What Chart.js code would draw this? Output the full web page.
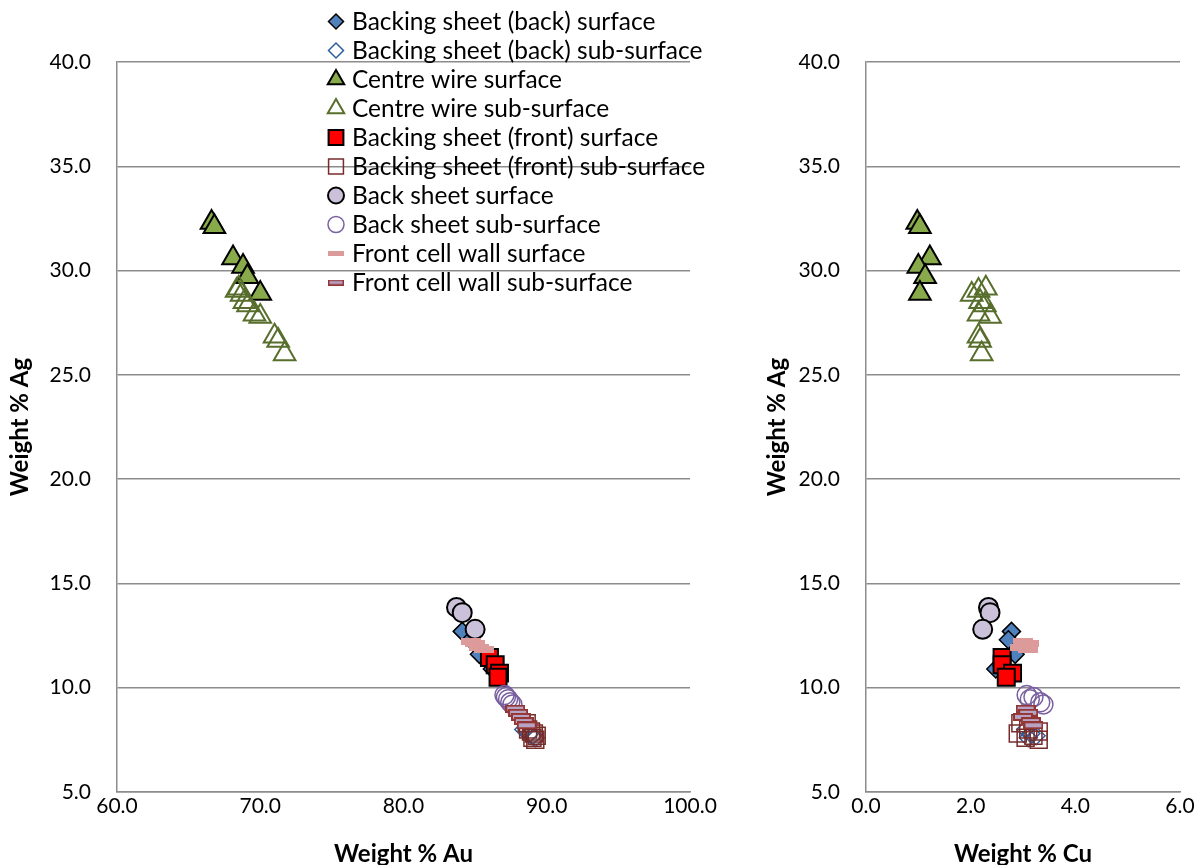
<!DOCTYPE html>
<html>
<head>
<meta charset="utf-8">
<script src="https://cdn.jsdelivr.net/npm/chart.js@4/dist/chart.umd.min.js"></script>
<style>
  body { margin: 0; background: #fff; }
  #wrap { position: relative; width: 1203px; height: 865px; }
  #left_box { position: absolute; left: 0; top: 0; width: 740px; height: 865px; }
  #right_box { position: absolute; left: 740px; top: 0; width: 463px; height: 865px; }
</style>
</head>
<body>
<div id="wrap">
  <div id="left_box"><canvas id="au_chart"></canvas></div>
  <div id="right_box"><canvas id="cu_chart"></canvas></div>
</div>
<script>
const series_names = [
    "Backing sheet (back) surface",
    "Backing sheet (back) sub-surface",
    "Centre wire surface",
    "Centre wire sub-surface",
    "Backing sheet (front) surface",
    "Backing sheet (front) sub-surface",
    "Back sheet surface",
    "Back sheet sub-surface",
    "Front cell wall surface",
    "Front cell wall sub-surface"
];

// weight % Ag / Au / Cu per series
const back_surf_ag = [12.7, 12.3, 11.6, 10.9];
const back_surf_au = [84.1, 84.7, 85.3, 86.2];
const back_surf_cu = [2.78, 2.72, 2.85, 2.48];

const back_sub_ag = [8.0, 7.8, 7.7, 7.6];
const back_sub_au = [88.4, 88.8, 89.0, 89.2];
const back_sub_cu = [3.05, 3.15, 3.25, 3.1];

const wire_surf_ag = [32.3, 32.1, 30.6, 30.2, 29.7, 28.9];
const wire_surf_au = [66.6, 66.8, 68.1, 68.8, 69.1, 70.0];
const wire_surf_cu = [0.98, 1.03, 1.22, 1.0, 1.13, 1.03];

const wire_sub_ag = [29.15, 29.05, 28.85, 28.5, 28.35, 27.9, 27.8, 26.85, 26.65, 26.0];
const wire_sub_au = [68.5, 68.35, 68.7, 68.9, 69.15, 69.6, 70.0, 71.0, 71.25, 71.7];
const wire_sub_cu = [2.29, 2.15, 2.02, 2.18, 2.27, 2.15, 2.37, 2.15, 2.18, 2.21];

const front_surf_ag = [11.45, 11.1, 10.7, 10.5];
const front_surf_au = [86.0, 86.4, 86.7, 86.6];
const front_surf_cu = [2.6, 2.6, 2.8, 2.68];

const front_sub_ag = [8.3, 8.0, 7.9, 7.8, 7.7, 7.6, 7.5];
const front_sub_au = [88.6, 88.7, 88.9, 89.1, 89.3, 89.0, 89.2];
const front_sub_cu = [2.95, 3.1, 3.3, 2.9, 3.2, 3.05, 3.3];

const sheet_surf_ag = [13.85, 13.6, 12.8];
const sheet_surf_au = [83.7, 84.1, 85.0];
const sheet_surf_cu = [2.34, 2.37, 2.23];

const sheet_sub_ag = [9.65, 9.55, 9.45, 9.3, 9.2];
const sheet_sub_au = [87.05, 87.15, 87.3, 87.45, 87.6];
const sheet_sub_cu = [3.07, 3.2, 3.13, 3.33, 3.39];

const wall_surf_ag = [12.2, 12.1, 11.95, 11.85];
const wall_surf_au = [84.7, 85.0, 85.3, 85.6];
const wall_surf_cu = [3.0, 3.12, 2.95, 3.1];

const wall_sub_ag = [9.0, 8.8, 8.6, 8.4, 8.2];
const wall_sub_au = [87.8, 88.0, 88.2, 88.4, 88.6];
const wall_sub_cu = [3.05, 3.1, 3.0, 3.15, 3.2];

const au_ticks = [60, 70, 80, 90, 100];
const cu_ticks = [0, 2, 4, 6];
const ag_ticks = [5, 10, 15, 20, 25, 30, 35, 40];

const FONT = "Lato, 'Open Sans', sans-serif";
const TICK_SIZE = 21;
const TITLE_SIZE = 24;
const LEGEND_SIZE = 24.5;

// little canvases for the dash shaped markers
function dash_marker(w, h, fill, stroke, lw) {
    const c = document.createElement("canvas");
    c.width = w; c.height = h;
    const ctx = c.getContext("2d");
    ctx.fillStyle = fill;
    ctx.fillRect(0, 0, w, h);
    if (stroke) {
        ctx.strokeStyle = stroke;
        ctx.lineWidth = lw;
        ctx.strokeRect(lw / 2, lw / 2, w - lw, h - lw);
    }
    return c;
}

const wall_surf_img = dash_marker(20, 7, "#DC9A9A");
const wall_sub_img = dash_marker(20, 8, "#B9A3C4", "#943634", 2);
const wall_surf_leg = dash_marker(16, 5, "#DC9A9A");
const wall_sub_leg = dash_marker(16, 6, "#B9A3C4", "#943634", 1.5);

const styles = [
    { pointStyle: "rectRot", radius: 9, bg: "#4F81BD", border: "#000", bw: 1.5, leg: { r: 7.5 } },
    { pointStyle: "rectRot", radius: 9, bg: "rgba(0,0,0,0)", border: "#2C5E9E", bw: 1.5, leg: { r: 7.5 } },
    { pointStyle: "triangle", radius: 12.5, bg: "#89AA4B", border: "#000", bw: 2, leg: { r: 9.5 } },
    { pointStyle: "triangle", radius: 12.5, bg: "rgba(0,0,0,0)", border: "#586E2C", bw: 2, leg: { r: 9.5 } },
    { pointStyle: "rect", radius: 12, bg: "#FF0000", border: "#000", bw: 2, leg: { r: 10.5 } },
    { pointStyle: "rect", radius: 12, bg: "rgba(0,0,0,0)", border: "#772C2A", bw: 1.5, leg: { r: 10.5 } },
    { pointStyle: "circle", radius: 9.5, bg: "#CCC1DA", border: "#000", bw: 2, leg: { r: 8 } },
    { pointStyle: "circle", radius: 9.5, bg: "rgba(0,0,0,0)", border: "#7A5FA0", bw: 1.5, leg: { r: 8 } },
    { pointStyle: wall_surf_img, radius: 9, bg: "#DC9A9A", border: "#DC9A9A", bw: 0, leg: { img: wall_surf_leg } },
    { pointStyle: wall_sub_img, radius: 9, bg: "#B9A3C4", border: "#943634", bw: 0, leg: { img: wall_sub_leg } }
];

const ag_sets = [back_surf_ag, back_sub_ag, wire_surf_ag, wire_sub_ag, front_surf_ag, front_sub_ag, sheet_surf_ag, sheet_sub_ag, wall_surf_ag, wall_sub_ag];
const au_sets = [back_surf_au, back_sub_au, wire_surf_au, wire_sub_au, front_surf_au, front_sub_au, sheet_surf_au, sheet_sub_au, wall_surf_au, wall_sub_au];
const cu_sets = [back_surf_cu, back_sub_cu, wire_surf_cu, wire_sub_cu, front_surf_cu, front_sub_cu, sheet_surf_cu, sheet_sub_cu, wall_surf_cu, wall_sub_cu];

function make_datasets(x_sets) {
    return series_names.map((name, i) => ({
        label: name,
        data: ag_sets[i].map((ag, j) => ({ x: x_sets[i][j], y: ag })),
        pointStyle: styles[i].pointStyle,
        pointRadius: styles[i].radius,
        pointHoverRadius: styles[i].radius,
        backgroundColor: styles[i].bg,
        borderColor: styles[i].border,
        borderWidth: styles[i].bw,
        order: series_names.length - i
    }));
}

// legend drawn into the left chart, top middle
const legend_plugin = {
    id: "side_legend",
    afterDraw(chart) {
        const ctx = chart.ctx;
        ctx.save();
        ctx.font = LEGEND_SIZE + "px " + FONT;
        ctx.textBaseline = "middle";
        ctx.textAlign = "left";
        series_names.forEach((name, i) => {
            const y = 21.5 + i * 29.0;
            const x = 336;
            const st = styles[i];
            if (st.leg.img) {
                ctx.drawImage(st.leg.img, x - st.leg.img.width / 2, y - st.leg.img.height / 2);
            } else {
                ctx.fillStyle = st.bg;
                ctx.strokeStyle = st.border;
                ctx.lineWidth = st.bw;
                Chart.helpers.drawPoint(ctx, { pointStyle: st.pointStyle, radius: st.leg.r, borderWidth: st.bw, rotation: 0 }, x, y);
            }
            ctx.fillStyle = "#000";
            ctx.fillText(name, 352, y + 1);
        });
        ctx.restore();
    }
};

function axis_options(x_min, x_max, x_ticks, x_title, y_title_pad, y_width) {
    return {
        x: {
            type: "linear",
            min: x_min,
            max: x_max,
            afterBuildTicks: (s) => { s.ticks = x_ticks.map(v => ({ value: v })); },
            afterFit: (s) => { s.height = 73; },
            grid: { display: false, drawTicks: false },
            border: { display: true, color: "#8C8C8C", width: 1.5 },
            ticks: {
                padding: 2,
                color: "#000",
                font: { family: FONT, size: TICK_SIZE },
                callback: (v) => v.toFixed(1)
            },
            title: {
                display: true,
                text: x_title,
                color: "#000",
                padding: { top: 0, bottom: -1 },
                font: { family: FONT, size: TITLE_SIZE, weight: "bold", lineHeight: 1 }
            }
        },
        y: {
            type: "linear",
            min: 5,
            max: 40,
            afterBuildTicks: (s) => { s.ticks = ag_ticks.map(v => ({ value: v })); },
            afterFit: (s) => { s.width = y_width; },
            grid: { color: "#8C8C8C", lineWidth: 1.5, drawTicks: false },
            border: { display: true, color: "#8C8C8C", width: 1.5 },
            ticks: {
                padding: 26,
                color: "#000",
                font: { family: FONT, size: TICK_SIZE },
                callback: (v) => v.toFixed(1)
            },
            title: {
                display: true,
                text: "Weight % Ag",
                color: "#000",
                padding: { top: y_title_pad, bottom: 0 },
                font: { family: FONT, size: TITLE_SIZE, weight: "bold", lineHeight: 1 }
            }
        }
    };
}

const common_plugins = {
    legend: { display: false },
    tooltip: { enabled: false }
};

const au_chart = new Chart(document.getElementById("au_chart"), {
    type: "scatter",
    data: { datasets: make_datasets(au_sets) },
    options: {
        responsive: true,
        maintainAspectRatio: false,
        animation: false,
        layout: { padding: { left: 0, right: 50, top: 62, bottom: 0 } },
        plugins: common_plugins,
        scales: axis_options(60, 100, au_ticks, "Weight % Au", 8, 117)
    },
    plugins: [legend_plugin]
});

const cu_chart = new Chart(document.getElementById("cu_chart"), {
    type: "scatter",
    data: { datasets: make_datasets(cu_sets) },
    options: {
        responsive: true,
        maintainAspectRatio: false,
        animation: false,
        layout: { padding: { left: 0, right: 23, top: 62, bottom: 0 } },
        plugins: common_plugins,
        scales: axis_options(0, 6, cu_ticks, "Weight % Cu", 25, 126)
    }
});
</script>
</body>
</html>
